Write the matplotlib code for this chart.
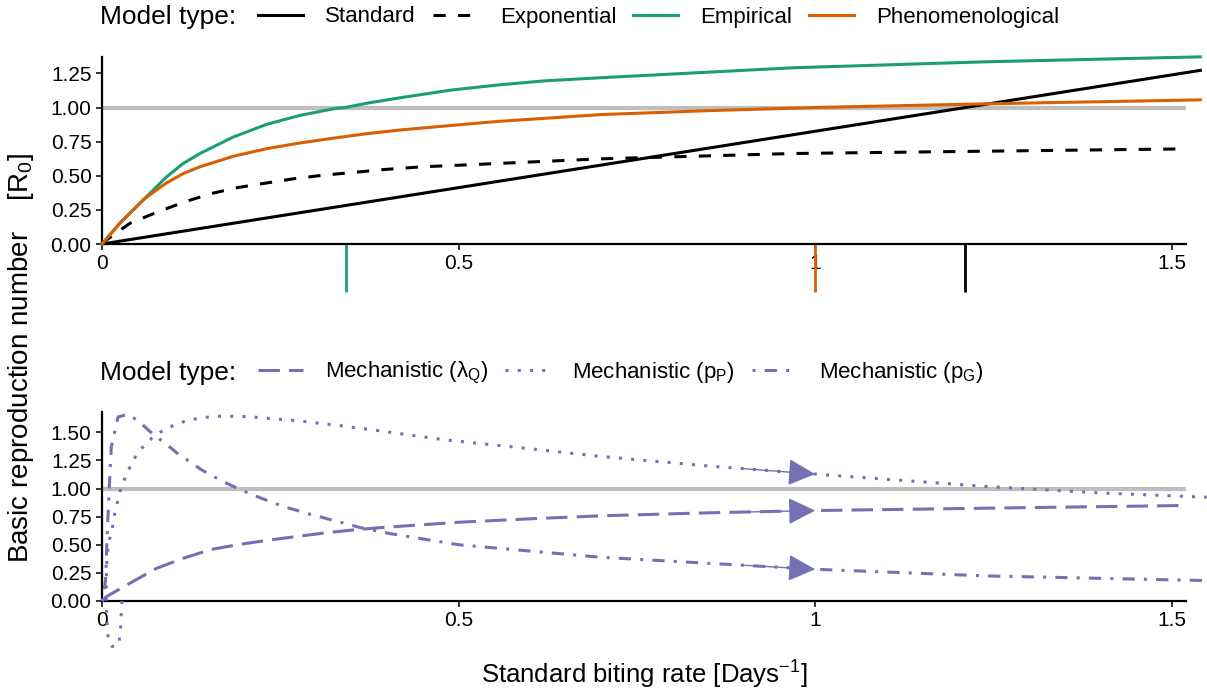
import matplotlib
matplotlib.use("Agg")
import matplotlib.pyplot as plt
import numpy as np
from matplotlib.lines import Line2D

plt.rcParams["font.family"] = ["Liberation Sans", "DejaVu Sans"]
plt.rcParams["mathtext.fontset"] = "custom"
plt.rcParams["mathtext.rm"] = "Liberation Sans"
plt.rcParams["mathtext.it"] = "Liberation Sans:italic"
plt.rcParams["mathtext.bf"] = "Liberation Sans:bold"

# Dark2 colours
green = "#1B9E77"
orange = "#D95F02"
purple = "#7570B3"
grey = "#BEBEBE"

# ---- top panel: standard / exponential / empirical / phenomenological ----
std_x = [0.0, 1.54]
std_y = [0.0, 1.272]

exp_x = [0.0, 0.0061, 0.0389, 0.0785, 0.116, 0.1534, 0.1908, 0.2306, 0.27,
         0.31, 0.35, 0.394, 0.447, 0.555, 0.699, 0.969, 1.24, 1.52]
exp_y = [0.0, 0.029, 0.151, 0.236, 0.309, 0.37, 0.414, 0.447, 0.479,
         0.504, 0.523, 0.545, 0.565, 0.59, 0.624, 0.663, 0.68, 0.697]

emp_x = [0.0, 0.0248, 0.0529, 0.0669, 0.0903, 0.1136, 0.137, 0.1837, 0.2306,
         0.2773, 0.324, 0.343, 0.371, 0.4175, 0.49, 0.555, 0.62, 0.699, 0.969,
         1.24, 1.54]
emp_y = [0.0, 0.151, 0.297, 0.37, 0.491, 0.589, 0.662, 0.783, 0.876,
         0.942, 0.99, 1.002, 1.031, 1.071, 1.128, 1.165, 1.195, 1.218, 1.291,
         1.335, 1.371]

phe_x = [0.0, 0.0248, 0.0575, 0.0669, 0.0903, 0.1136, 0.137, 0.1837, 0.2306,
         0.2773, 0.324, 0.371, 0.4175, 0.5, 0.555, 0.699, 0.85, 1.0, 1.24, 1.54]
phe_y = [0.0, 0.151, 0.321, 0.36, 0.447, 0.515, 0.565, 0.642, 0.698,
         0.74, 0.775, 0.808, 0.835, 0.873, 0.898, 0.948, 0.977, 1.0, 1.027, 1.056]

# biting rate where R0 crosses 1
cross_x = [0.342, 1.0, 1.21]
cross_col = [green, orange, "black"]

# ---- bottom panel: mechanistic curves (parametric paths) ----
lq_x = [0.0, 0.006, 0.0389, 0.0763, 0.1136, 0.1534, 0.193, 0.2306, 0.27,
        0.31, 0.35, 0.39, 0.5, 0.609, 0.699, 0.85, 1.0, 1.24, 1.52]
lq_y = [0.0, 0.038, 0.157, 0.29, 0.379, 0.459, 0.503, 0.538, 0.571,
        0.603, 0.63, 0.652, 0.7, 0.733, 0.757, 0.784, 0.804, 0.825, 0.849]

pp_x = [0.028, 0.027, 0.026, 0.024, 0.019, 0.013, 0.009, 0.007, 0.006, 0.006,
        0.007, 0.0095, 0.0146, 0.0178, 0.0224, 0.027, 0.035, 0.0435, 0.0553,
        0.0693, 0.0856, 0.1034, 0.122, 0.1417, 0.1618, 0.1824, 0.2025, 0.222,
        0.2422, 0.262, 0.282, 0.3016, 0.3217, 0.341, 0.361, 0.381, 0.401,
        0.48, 0.579, 0.699, 0.85, 1.0, 1.24, 1.4, 1.56]
pp_y = [0.0, -0.12, -0.25, -0.36, -0.41, -0.4, -0.35, -0.2, 0.0, 0.2,
        0.393, 0.52, 0.65, 0.778, 0.896, 1.014, 1.133, 1.251, 1.355,
        1.444, 1.517, 1.571, 1.609, 1.63, 1.642, 1.642, 1.639, 1.63,
        1.618, 1.609, 1.597, 1.582, 1.568, 1.553, 1.535, 1.52, 1.502,
        1.433, 1.368, 1.285, 1.2, 1.128, 1.018, 0.96, 0.92]

pg_x = [0.0, 0.0014, 0.0052, 0.007, 0.0098, 0.013, 0.0225, 0.0365, 0.0519,
        0.0669, 0.08, 0.095, 0.109, 0.124, 0.139, 0.1557, 0.171, 0.1885,
        0.2048, 0.222, 0.239, 0.256, 0.2735, 0.291, 0.309, 0.326, 0.345,
        0.361, 0.403, 0.5, 0.609, 0.699, 1.0, 1.24, 1.56]
pg_y = [0.0, 0.024, 0.201, 0.556, 0.956, 1.369, 1.636, 1.659, 1.597,
        1.508, 1.443, 1.369, 1.295, 1.236, 1.168, 1.109, 1.059, 1.006,
        0.961, 0.917, 0.876, 0.837, 0.805, 0.772, 0.743, 0.713, 0.683,
        0.654, 0.6, 0.5, 0.439, 0.389, 0.282, 0.223, 0.18]

arrow_from, arrow_to = 0.9, 1.0

lw = 2.2
W, H = 1207, 695
fig = plt.figure(figsize=(W / 100, H / 100), dpi=100)

ax1 = fig.add_axes([102 / W, 1 - 244 / H, 1084 / W, 187 / H])
ax2 = fig.add_axes([102 / W, 1 - 601 / H, 1084 / W, 189 / H])

for ax in (ax1, ax2):
    ax.spines["top"].set_visible(False)
    ax.spines["right"].set_visible(False)
    ax.spines["left"].set_linewidth(1.6)
    ax.spines["bottom"].set_linewidth(1.6)
    ax.tick_params(direction="out", length=4.5, width=1.1, labelsize=15, pad=3)
    ax.set_xlim(0, 1.52)
    ax.set_xticks([0, 0.5, 1, 1.5])
    ax.set_xticklabels(["0", "0.5", "1", "1.5"])
    ax.axhline(1.0, color=grey, lw=3, zorder=1)

# top panel
ax1.set_ylim(0, 1.37)
ax1.set_yticks([0, 0.25, 0.5, 0.75, 1.0, 1.25])
ax1.set_yticklabels(["%.2f" % v for v in [0, 0.25, 0.5, 0.75, 1.0, 1.25]])
ax1.plot(std_x, std_y, color="black", lw=lw, clip_on=False, zorder=3)
ax1.plot(exp_x, exp_y, color="black", lw=lw, ls=(0, (4, 4)), clip_on=False, zorder=3)
ax1.plot(emp_x, emp_y, color=green, lw=lw, clip_on=False, zorder=3)
ax1.plot(phe_x, phe_y, color=orange, lw=lw, clip_on=False, zorder=3)
ax1.vlines(cross_x, -0.35, 0, colors=cross_col, lw=2, clip_on=False)

# bottom panel
ax2.set_ylim(0, 1.68)
ax2.set_yticks([0, 0.25, 0.5, 0.75, 1.0, 1.25, 1.5])
ax2.set_yticklabels(["%.2f" % v for v in [0, 0.25, 0.5, 0.75, 1.0, 1.25, 1.5]])
styles = [(0, (7, 3)), (0, (1, 3)), (0, (1, 3, 4, 3))]
for xs, ys, st in zip([lq_x, pp_x, pg_x], [lq_y, pp_y, pg_y], styles):
    ax2.plot(xs, ys, color=purple, lw=lw, ls=st, clip_on=False, zorder=3)
    xs = np.asarray(xs)
    ys = np.asarray(ys)
    keep = xs > 0.45
    y0 = np.interp(arrow_from, xs[keep], ys[keep])
    y1 = np.interp(arrow_to, xs[keep], ys[keep])
    ax2.annotate("", xy=(arrow_to, y1), xytext=(arrow_from, y0),
                 arrowprops=dict(arrowstyle="-|>,head_length=0.85,head_width=0.42",
                                 mutation_scale=20, lw=1, color=purple,
                                 shrinkA=0, shrinkB=0), zorder=4)

# legends
top_handles = [
    Line2D([], [], color="black", lw=lw),
    Line2D([], [], color="black", lw=lw, ls=(0, (4, 4))),
    Line2D([], [], color=green, lw=lw),
    Line2D([], [], color=orange, lw=lw),
]
top_labels = ["Standard", "Exponential", "Empirical", "Phenomenological"]
bot_handles = [Line2D([], [], color=purple, lw=lw, ls=st) for st in styles]
bot_labels = ["Mechanistic (λ$_\\mathrm{Q}$)", "Mechanistic (p$_\\mathrm{P}$)",
              "Mechanistic (p$_\\mathrm{G}$)"]

for yc, hs, ls_ in [(17, top_handles, top_labels), (373, bot_handles, bot_labels)]:
    fig.text(100 / W, 1 - yc / H, "Model type:", fontsize=19, ha="left", va="center")
    fig.legend(hs, ls_, loc="center left", bbox_to_anchor=(258 / W, 1 - yc / H),
               ncol=len(hs), frameon=False, borderaxespad=0, borderpad=0,
               handlelength=2.03, handletextpad=1.0, columnspacing=0.75, fontsize=16)

fig.text(644 / W, 1 - 675 / H, "Standard biting rate [Days$^{-1}$]",
         fontsize=18.5, ha="center", va="center")
fig.text(21 / W, 1 - 358 / H, "Basic reproduction number    [R$_\\mathrm{0}$]",
         fontsize=20, ha="center", va="center", rotation=90)

fig.savefig("out.png", dpi=100)
